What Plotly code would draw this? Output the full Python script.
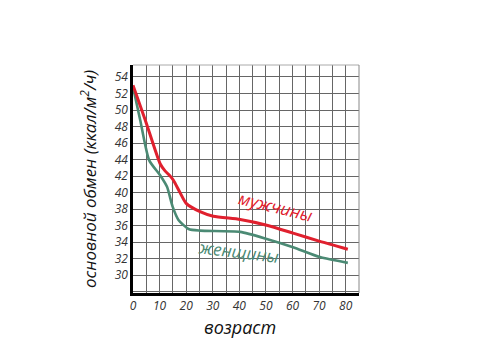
import plotly.graph_objects as go

# Data
men_age = [0, 4.6, 10.2, 11.9, 14, 15.2, 17.7, 20, 25.2, 30.2, 40.3, 50.3, 60.2, 70.3, 80.8]
men_bmr = [53.0, 48.8, 43.5, 42.7, 42.0, 41.5, 40.0, 38.7, 37.7, 37.15, 36.75, 36.06, 35.1, 34.1, 33.15]

women_age = [0, 2.7, 6.1, 10.2, 12.8, 14.9, 17.1, 20.9, 25.2, 40.3, 50.3, 60.2, 70.3, 80.8]
women_bmr = [52.8, 48.8, 43.9, 42.1, 40.7, 38.3, 36.7, 35.6, 35.4, 35.25, 34.4, 33.4, 32.2, 31.5]

x_ticks = list(range(0, 90, 5))
x_labels = [str(v) if v % 10 == 0 and v <= 80 else "" for v in x_ticks]
y_ticks = list(range(28, 56, 2))
y_labels = [str(v) if v >= 30 else "" for v in y_ticks]

RED = "#e0202e"
GREEN = "#4b8a74"
FONT = "Open Sans"

L, R, T, B = 133, 121, 65, 60
W, H = 480, 353
PW, PH = W - L - R, H - T - B


def px_to_paper(px, py):
    return (px - L) / PW, 1 - (py - T) / PH


fig = go.Figure()
fig.add_trace(go.Scatter(x=women_age, y=women_bmr, mode="lines",
                         line=dict(color=GREEN, width=2.6, shape="spline", smoothing=0.6),
                         hoverinfo="skip"))
fig.add_trace(go.Scatter(x=men_age, y=men_bmr, mode="lines",
                         line=dict(color=RED, width=3, shape="spline", smoothing=0.6),
                         hoverinfo="skip"))

fig.update_layout(
    width=W, height=H,
    margin=dict(l=L, r=R, t=T, b=B),
    paper_bgcolor="white", plot_bgcolor="white",
    showlegend=False,
    font=dict(family=FONT, color="#333"),
    xaxis=dict(range=[0, 85], tickvals=x_ticks, ticktext=x_labels,
               showgrid=True, gridcolor="#666", gridwidth=1,
               showline=True, linecolor="black", linewidth=2.5,
               zeroline=False, ticks="", ticklen=0,
               tickfont=dict(family=FONT, size=12, style="italic", color="#333")),
    yaxis=dict(range=[27.85, 55.45], tickvals=y_ticks, ticktext=y_labels,
               showgrid=True, gridcolor="#666", gridwidth=1,
               showline=True, linecolor="black", linewidth=2.5,
               zeroline=False, ticks="", ticklen=0,
               tickfont=dict(family=FONT, size=12, style="italic", color="#333")),
)

# top and right frame
fig.add_shape(type="line", xref="paper", yref="paper", x0=0, x1=1, y0=1, y1=1,
              line=dict(color="#aaa", width=1))
fig.add_shape(type="line", xref="paper", yref="paper", x0=1, x1=1, y0=0, y1=1,
              line=dict(color="#888", width=1))

fig.add_annotation(text="мужчины", x=53.7, y=38.3, xref="x", yref="y", showarrow=False,
                   textangle=14, font=dict(family=FONT, size=17, style="italic", color=RED))
fig.add_annotation(text="женщины", x=39.5, y=32.85, xref="x", yref="y", showarrow=False,
                   textangle=7, font=dict(family=FONT, size=17, style="italic", color=GREEN))

yx, yy = px_to_paper(88, 179)
fig.add_annotation(text="основной обмен (ккал/м<sup>2</sup>/ч)", x=yx, y=yy,
                   xref="paper", yref="paper", showarrow=False, textangle=-90,
                   xanchor="center", yanchor="middle",
                   font=dict(family=FONT, size=17, style="italic", color="#111"))
xx, xy = px_to_paper(240, 327)
fig.add_annotation(text="возраст", x=xx, y=xy, xref="paper", yref="paper",
                   showarrow=False, xanchor="center", yanchor="middle",
                   font=dict(family=FONT, size=18, style="italic", color="#111"))

fig.write_html("out.html")
